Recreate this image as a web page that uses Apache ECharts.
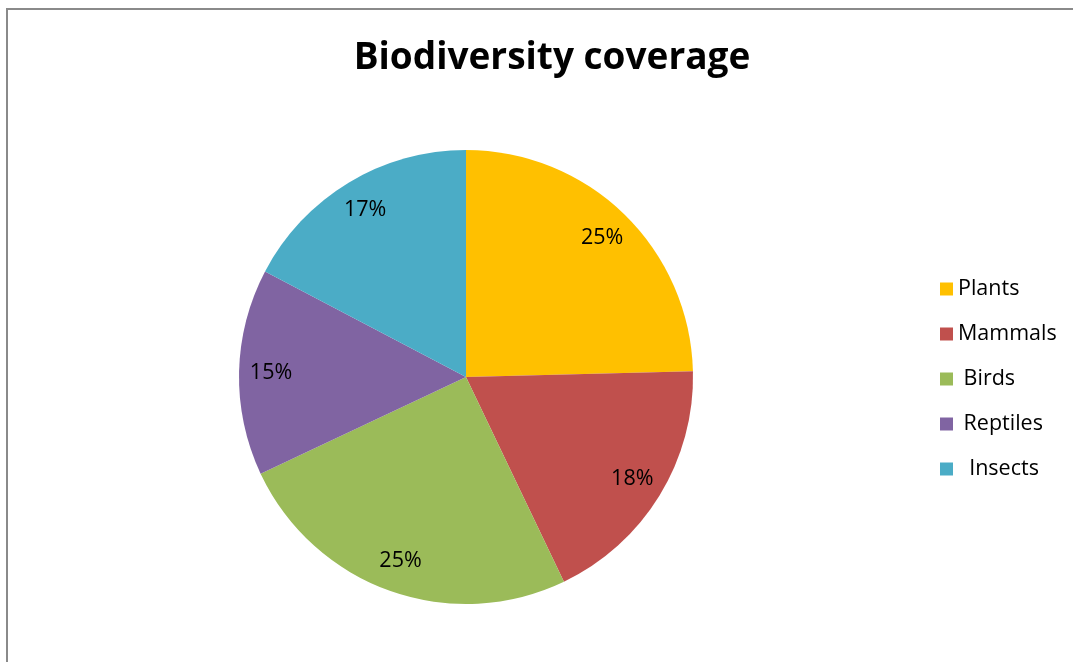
<!DOCTYPE html>
<html>
<head>
<meta charset="utf-8">
<script src="https://cdn.jsdelivr.net/npm/echarts@6/dist/echarts.min.js"></script>
<style>
html,body{margin:0;padding:0;background:#fff;}
#chart{width:1073px;height:662px;}
</style>
</head>
<body>
<div id="chart"></div>
<script>
const title = 'Biodiversity coverage';
const categories = ['Plants', 'Mammals', 'Birds', 'Reptiles', 'Insects'];
const values = [24.6, 18.3, 25.1, 14.7, 17.3];
const legendLabels = ['Plants', 'Mammals', ' Birds', ' Reptiles', '  Insects'];
const colors = ['#FFC000', '#C0504D', '#9BBB59', '#8064A2', '#4BACC6'];

const font = '"Open Sans", Lato, sans-serif';
const data = categories.map((c, i) => ({ name: c, value: values[i] }));
const total = values.reduce((a, b) => a + b, 0);

const chart = echarts.init(document.getElementById('chart'));
chart.setOption({
  animation: false,
  color: colors,
  title: {
    text: title,
    left: 547,
    textAlign: 'center',
    top: 35,
    textStyle: { fontFamily: font, fontWeight: 'bold', fontSize: 37, color: '#000' }
  },
  graphic: [{
    type: 'rect',
    shape: { x: 7, y: 9, width: 3000, height: 3000 },
    style: { fill: 'none', stroke: '#8a8a8a', lineWidth: 2 },
    silent: true
  }],
  legend: {
    orient: 'vertical',
    left: 935,
    top: 273,
    itemWidth: 13,
    itemHeight: 13,
    itemGap: 23,
    icon: 'rect',
    data: categories,
    formatter: name => legendLabels[categories.indexOf(name)],
    textStyle: { fontFamily: font, fontSize: 21.5, color: '#000' }
  },
  series: [
    {
      type: 'pie',
      center: [466, 377],
      radius: [0, 227],
      startAngle: 90,
      clockwise: true,
      silent: true,
      label: { show: false },
      labelLine: { show: false },
      itemStyle: { borderWidth: 0 },
      data: data
    },
    {
      type: 'pie',
      center: [466, 377],
      radius: [0, 384],
      startAngle: 90,
      clockwise: true,
      silent: true,
      legendHoverLink: false,
      itemStyle: { color: 'rgba(0,0,0,0)', borderWidth: 0 },
      label: {
        show: true,
        position: 'inside',
        formatter: p => Math.round(p.value / total * 100) + '%',
        fontFamily: font,
        fontSize: 21.5,
        color: '#000'
      },
      labelLine: { show: false },
      data: data
    }
  ]
});
</script>
</body>
</html>
